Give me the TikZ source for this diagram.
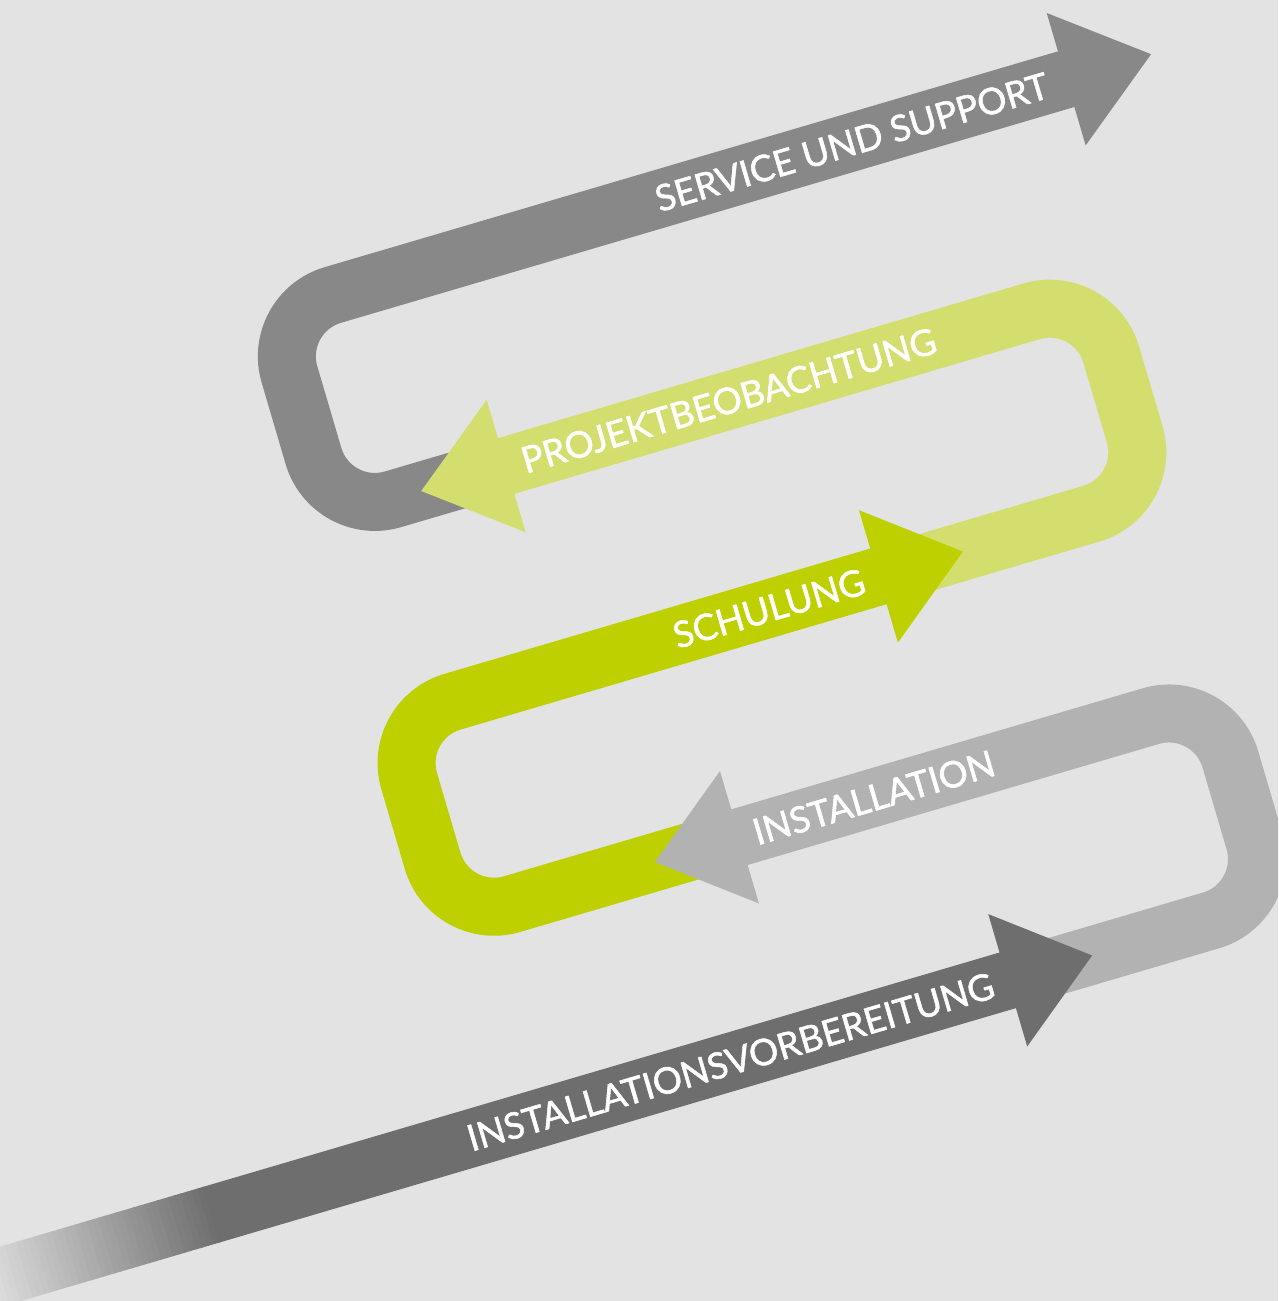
\documentclass[tikz,border=0pt]{standalone}
\usepackage{fontspec}
\setmainfont{Lato}
\newfontfamily\lblfont{Lato}[BoldFont=Lato, BoldFeatures={FakeBold=1.4}]
\definecolor{bgc}{HTML}{E3E3E3}
\definecolor{svc}{HTML}{888888}
\definecolor{prj}{HTML}{D4DE6E}
\definecolor{sch}{HTML}{BED000}
\definecolor{ins}{HTML}{B2B2B2}
\definecolor{bot}{HTML}{6E6E6E}
\begin{document}
\begin{tikzpicture}[x=1pt,y=-1pt,
  band/.style={line width=58pt, rounded corners=64pt},
  lbl/.style={text=white, font=\lblfont\bfseries\fontsize{36.5}{40}\selectfont, anchor=base, transform shape, inner sep=0pt}]
\fill[bgc] (0,0) rectangle (1278,1301);
\useasboundingbox (0,0) rectangle (1278,1301);
\begin{scope}
\clip (0,0) rectangle (1278,1301);
\begin{scope}[rotate=16.4]
% service und support
\coordinate (s0) at (320,590);
\coordinate (s1) at (172,590);
\coordinate (s2) at (172,377);
\coordinate (s3) at (1003,377);
\draw[band, svc] (s0) -- (s1) -- (s2) -- (s3);
\fill[svc] (1000.5,308) -- (1089,377) -- (1000.5,446) -- cycle;
% projektbeobachtung
\coordinate (p0) at (720,801);
\coordinate (p1) at (966,801);
\coordinate (p2) at (966,590);
\coordinate (p3) at (352,590);
\draw[band, prj] (p0) -- (p1) -- (p2) -- (p3);
\fill[prj] (354,521) -- (265.5,590) -- (354,659) -- cycle;
% schulung
\coordinate (c0) at (430,1012);
\coordinate (c1) at (172,1012);
\coordinate (c2) at (172,801);
\coordinate (c3) at (682,801);
\draw[band, sch] (c0) -- (c1) -- (c2) -- (c3);
\fill[sch] (680,732) -- (768,801) -- (680,870) -- cycle;
% installation
\coordinate (i0) at (730,1225);
\coordinate (i1) at (966,1225);
\coordinate (i2) at (966,1012);
\coordinate (i3) at (471,1012);
\draw[band, ins] (i0) -- (i1) -- (i2) -- (i3);
\fill[ins] (473,943) -- (385,1012) -- (473,1081) -- cycle;
% installationsvorbereitung
\foreach \i in {0,...,39}{
  \pgfmathsetmacro\ua{-384+\i*6.1}
  \pgfmathsetmacro\ub{\ua+7}
  \pgfmathtruncatemacro\pc{100*(\i+0.5)/40}
  \fill[bot!\pc!bgc] (\ua,1196) rectangle (\ub,1254);
}
\fill[bot] (-141,1196) rectangle (692,1254);
\fill[bot] (690,1156) -- (778,1225) -- (690,1294) -- cycle;
% labels
\node[lbl] (l5) at (777,390) {SERVICE UND SUPPORT};
\node[lbl] (l4) at (586,603) {PROJEKTBEOBACHTUNG};
\node[lbl] (l3) at (566,814) {SCHULUNG};
\node[lbl] (l2) at (613,1025) {INSTALLATION};
\node[lbl] (l1) at (401,1238) {INSTALLATIONSVORBEREITUNG};
\end{scope}
\end{scope}
\end{tikzpicture}
\end{document}
